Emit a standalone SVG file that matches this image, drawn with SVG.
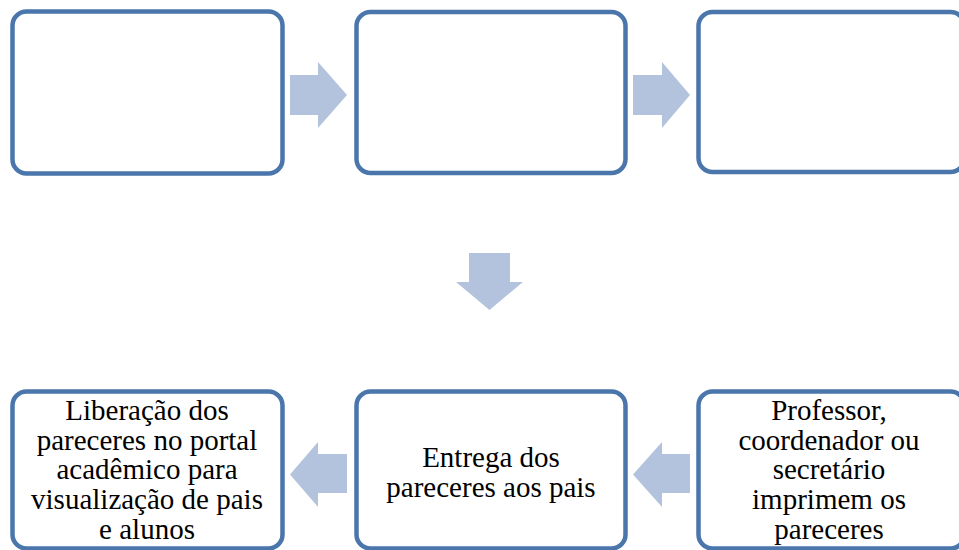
<svg xmlns="http://www.w3.org/2000/svg" width="959" height="550" viewBox="0 0 959 550">
<style>
.box{fill:#fff;stroke:#4A76AC;stroke-width:4.5}
.arr{fill:#B3C3DD}
.t{font-family:"Liberation Serif","Times New Roman",serif;font-size:29px;fill:#000;text-anchor:middle}
</style>
<rect width="959" height="550" fill="#fff"/>
<g id="connectors">
<polygon class="arr" points="290,75 318,75 318,62 347,95 318,128 318,115 290,115"/>
<polygon class="arr" points="633,75 662,75 662,62 690,95 662,128 662,115 633,115"/>
<polygon class="arr" points="469,253 510,253 510,282 523,282 489.5,310 456,282 469,282"/>
<polygon class="arr" points="347,454 318,454 318,442 290,474.5 318,507 318,493 347,493"/>
<polygon class="arr" points="690,454 662,454 662,442 633,474.5 662,507 662,493 690,493"/>
</g>
<g id="node1"><rect class="box" x="12.5" y="11.5" width="270" height="162" rx="14"/></g>
<g id="node2"><rect class="box" x="356.5" y="12" width="269" height="161" rx="14"/></g>
<g id="node3"><rect class="box" x="698.5" y="12" width="266" height="160" rx="14"/></g>
<g id="node4"><rect class="box" x="698.5" y="391.5" width="266" height="157" rx="14"/>
<text class="t"><tspan x="829" y="420">Professor,</tspan><tspan x="829" y="449.7">coordenador ou</tspan><tspan x="829" y="479.4">secretário</tspan><tspan x="829" y="509">imprimem os</tspan><tspan x="829" y="538.8">pareceres</tspan></text></g>
<g id="node5"><rect class="box" x="356.5" y="391.5" width="269" height="157" rx="14"/>
<text class="t"><tspan x="491" y="467">Entrega dos</tspan><tspan x="491" y="497">pareceres aos pais</tspan></text></g>
<g id="node6"><rect class="box" x="12.5" y="391.5" width="270" height="157" rx="14"/>
<text class="t"><tspan x="147" y="420">Liberação dos</tspan><tspan x="147" y="449.7">pareceres no portal</tspan><tspan x="147" y="479.4">acadêmico para</tspan><tspan x="147" y="509">visualização de pais</tspan><tspan x="147" y="538.8">e alunos</tspan></text></g>
</svg>
